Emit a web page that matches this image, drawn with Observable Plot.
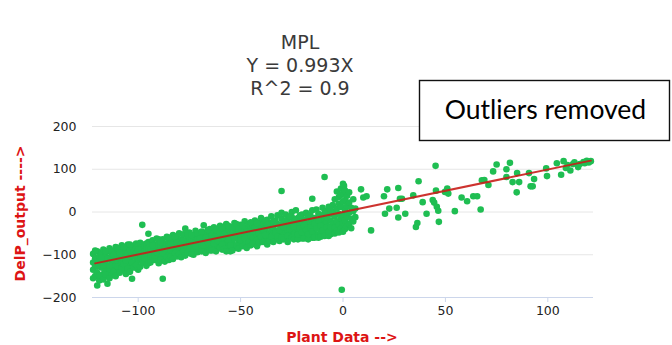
<!DOCTYPE html>
<html>
<head>
<meta charset="utf-8">
<script src="https://cdn.jsdelivr.net/npm/d3@7"></script>
<script src="https://cdn.jsdelivr.net/npm/@observablehq/plot@0.6"></script>
<style>
  html, body { margin: 0; padding: 0; background: #fff; }
  #chart { width: 672px; height: 345px; overflow: hidden; }
</style>
</head>
<body>
<div id="chart"></div>
<script>
// ---- chart values ----
const titleLines = ["MPL", "Y = 0.993X", "R^2 = 0.9"];
const boxText = "Outliers removed";
const xLabel = "Plant Data -->";
const yLabel = "DelP_output ---->";
const xTicks = [-100, -50, 0, 50, 100];
const yTicks = [-200, -100, 0, 100, 200];
const fitSlope = 0.993;
const fitRange = [-121, 121];

// dense band, Plant Data < -5 (upper / central part)
const bandPoints = [
  [-122,-98],[-122,-118],[-122,-135],[-121,-150],[-121,-108],[-121,-127],[-120,-92],[-120,-142],[-120,-172],[-119,-115],[-119,-103],[-119,-160],[-118,-130],[-118,-96],[-118,-122],[-117,-110],[-117,-145],[-117,-88],[-116,-136],[-116,-102],[-116,-118],[-115,-168],[-115,-92],[-115,-128],[-115,-150],
  [-114,-108],[-114,-85],[-114,-138],[-113,-120],[-113,-98],[-113,-148],[-112,-90],[-112,-112],[-112,-130],[-111,-82],[-111,-104],[-111,-125],[-110,-95],[-110,-116],[-110,-140],
  [-109,-86],[-109,-108],[-109,-128],[-108,-78],[-108,-100],[-108,-118],[-107,-92],[-107,-112],[-107,-135],[-106,-84],[-106,-104],[-105,-96],[-105,-122],[-105,-76],
  [-104,-88],[-104,-110],[-104,-128],[-103,-80],[-103,-100],[-103,-156],[-102,-92],[-102,-118],[-101,-74],[-101,-106],[-101,-86],[-100,-98],[-100,-135],[-100,-114],[-100,-78],
  [-99,-90],[-99,-108],[-99,-72],[-98,-30],[-98,-82],[-98,-100],[-97,-118],[-97,-92],[-97,-76],[-96,-86],[-96,-104],[-95,-51],[-95,-96],[-95,-112],[-95,-70],
  [-94,-80],[-94,-100],[-93,-66],[-93,-90],[-93,-108],[-92,-76],[-92,-94],[-91,-84],[-91,-62],[-91,-104],[-90,-72],[-90,-90],[-90,-110],
  [-89,-80],[-89,-98],[-88,-156],[-88,-64],[-88,-88],[-87,-74],[-87,-104],[-86,-58],[-86,-84],[-86,-94],[-85,-70],[-85,-100],[-85,-80],
  [-84,-62],[-84,-90],[-83,-76],[-83,-54],[-83,-98],[-82,-84],[-82,-68],[-81,-58],[-81,-92],[-80,-74],[-80,-50],[-80,-86],
  [-79,-64],[-79,-96],[-78,-80],[-78,-52],[-77,-39],[-77,-70],[-77,-90],[-76,-60],[-76,-84],[-75,-48],[-75,-74],[-75,-94],
  [-74,-66],[-74,-86],[-73,-56],[-73,-78],[-72,-44],[-72,-92],[-72,-70],[-71,-62],[-71,-82],[-70,-50],[-70,-74],[-70,-88],
  [-69,-58],[-69,-80],[-68,-31],[-68,-66],[-68,-90],[-67,-48],[-67,-74],[-66,-60],[-66,-84],[-65,-40],[-65,-68],[-65,-56],
  [-64,-76],[-64,-50],[-63,-62],[-63,-86],[-63,-36],[-62,-70],[-62,-54],[-61,-44],[-61,-80],[-60,-60],[-60,-32],[-60,-70],
  [-59,-50],[-59,-88],[-58,-64],[-58,-40],[-57,-74],[-57,-56],[-57,-28],[-56,-46],[-56,-82],[-55,-62],[-55,-36],[-55,-92],
  [-54,-52],[-54,-72],[-53,-26],[-53,-44],[-53,-84],[-52,-60],[-52,-38],[-51,-68],[-51,-50],[-50,-30],[-50,-76],[-50,-56],
  [-49,-44],[-49,-64],[-48,-22],[-48,-52],[-48,-72],[-47,-36],[-47,-58],[-46,-46],[-46,-28],[-45,-66],[-45,-40],[-45,-54],
  [-44,-32],[-44,-60],[-43,-20],[-43,-48],[-43,-70],[-42,-40],[-42,-54],[-41,-26],[-41,-62],[-40,-34],[-40,-46],[-40,-14],
  [-39,-56],[-39,-28],[-38,-40],[-38,-66],[-37,-18],[-37,-50],[-36,-34],[-36,-60],[-35,-10],[-35,-44],[-35,-26],
  [-34,-52],[-34,-36],[-33,-20],[-33,-64],[-32,-44],[-32,-8],[-31,-30],[-31,-56],[-30,49],[-30,-16],[-30,-40],[-30,-2],
  [-29,-48],[-29,-24],[-28,-60],[-28,-34],[-28,-6],[-27,-18],[-27,-42],[-26,-54],[-26,-28],[-25,0],[-25,-12],[-25,-38],
  [-24,-46],[-24,-22],[-23,-58],[-23,-32],[-23,4],[-22,-14],[-22,-40],[-21,-26],[-21,-52],[-20,-6],[-20,-34],[-20,-62],
  [-19,-18],[-19,-44],[-18,-2],[-18,-28],[-18,-56],[-17,-10],[-17,-38],[-16,-22],[-16,-48],[-15,31],[-15,4],[-15,-30],[-15,-60],
  [-14,-14],[-14,-40],[-13,-24],[-13,-52],[-13,6],[-12,-4],[-12,-34],[-11,-18],[-11,-46],[-10,10],[-10,-28],[-10,-8],[-10,-56],
  [-9,82],[-9,-38],[-9,-16],[-8,2],[-8,-48],[-8,-24],[-7,12],[-7,-34],[-6,-6],[-6,-52],[-6,-20],[-5,16],[-5,-42],[-5,-28],[-5,0]
];

// dense band, additional points filling the lower side
const bandPointsLower = [
  [-122,-155],[-121,-90],[-120,-128],[-119,-148],[-118,-108],[-117,-158],[-117,-125],[-116,-92],[-116,-146],[-115,-110],
  [-114,-155],[-114,-125],[-113,-92],[-112,-140],[-112,-100],[-111,-150],[-110,-84],[-110,-128],
  [-109,-142],[-109,-96],[-108,-130],[-107,-82],[-107,-122],[-106,-145],[-106,-114],[-105,-132],
  [-104,-76],[-104,-140],[-103,-118],[-102,-130],[-102,-104],[-101,-96],[-101,-124],[-100,-88],
  [-99,-128],[-99,-98],[-98,-118],[-97,-108],[-96,-126],[-96,-74],[-95,-84],[-95,-120],
  [-94,-118],[-94,-88],[-93,-78],[-92,-112],[-92,-102],[-91,-94],[-90,-120],[-90,-64],
  [-89,-112],[-89,-70],[-88,-96],[-87,-116],[-87,-86],[-86,-106],[-85,-60],[-85,-112],
  [-84,-104],[-84,-74],[-83,-110],[-82,-96],[-82,-58],[-81,-104],[-81,-72],[-80,-98],
  [-79,-76],[-79,-106],[-78,-92],[-78,-66],[-77,-102],[-76,-96],[-76,-50],[-75,-86],
  [-74,-98],[-74,-54],[-73,-90],[-73,-100],[-72,-80],[-71,-50],[-71,-94],[-70,-62],
  [-69,-92],[-69,-46],[-68,-78],[-67,-96],[-67,-60],[-66,-72],[-66,-42],[-65,-90],
  [-64,-90],[-64,-62],[-63,-74],[-62,-92],[-62,-42],[-61,-68],[-60,-84],[-60,-48],
  [-59,-76],[-59,-36],[-58,-86],[-58,-52],[-57,-92],[-56,-66],[-56,-32],[-55,-78],
  [-54,-90],[-54,-36],[-53,-62],[-52,-78],[-52,-28],[-51,-86],[-51,-40],[-50,-66],
  [-49,-80],[-49,-32],[-48,-62],[-47,-84],[-47,-46],[-46,-72],[-45,-24],[-45,-78],
  [-44,-74],[-44,-46],[-43,-36],[-42,-80],[-42,-26],[-41,-50],[-41,-72],[-40,-58],
  [-39,-70],[-39,-42],[-38,-20],[-38,-54],[-37,-76],[-37,-30],[-36,-68],[-35,-58],
  [-34,-70],[-34,-22],[-33,-48],[-32,-58],[-32,-28],[-31,-68],[-31,-42],[-30,-60],
  [-29,-64],[-29,-36],[-28,-20],[-27,-56],[-27,-70],[-26,-40],[-26,-10],[-25,-60],
  [-24,-64],[-24,-34],[-23,-18],[-22,-64],[-22,-52],[-21,-38],[-21,-8],[-20,-48],
  [-19,-62],[-19,-32],[-18,-42],[-17,-64],[-17,-52],[-16,-36],[-16,-6],[-15,-46],
  [-14,-60],[-14,-28],[-13,-38],[-12,-60],[-12,-20],[-11,-32],[-11,-58],[-10,-44],
  [-9,-56],[-9,-2],[-8,-36],[-8,-12],[-7,-56],[-7,-46],[-6,-36],[-6,6]
];

// cluster around Plant Data = 0
const centerPoints = [
  [-4,30],[-4,-10],[-4,-36],[-4,-50],[-3,48],[-3,8],[-3,-22],[-3,-44],[-2,35],[-2,20],[-2,-4],[-2,-30],[-2,-48],
  [-1,55],[-1,40],[-1,12],[-1,-16],[-1,-38],[0,66],[0,44],[0,24],[0,-8],[0,-26],[0,-46],[0.5,61],
  [1,50],[1,28],[1,4],[1,-20],[1,-40],[2,38],[2,14],[2,-10],[2,-34],[3,46],[3,22],[3,-2],[3,-28],
  [4,10],[4,-16],[4,-38],[5,30],[5,2],[5,-22],[6,8],[6,-12],[-0.6,-182]
];

// sparse points, Plant Data > 5
const rightPoints = [
  [8.8,53],[9.9,34],[11.5,37],[13.7,-43],[20,37],[20.5,-4],[21.6,53],[22.6,8],[26.2,10],[27,56],[27,-13],[27.8,31],[28.8,31],
  [30.4,-4],[34.3,39],[35.6,-35],[36.3,-26],[36.9,72],[38.9,23],[40.8,-4],[43.8,28],[44.5,22],[45.4,50],[45.2,108],[45.8,12],
  [46.5,3],[46.8,-23],[49.8,47],[50.9,55],[51.4,43],[54.6,2],[57.9,34],[60.6,25],[63.6,37],[65.5,37],[67.2,6],[67.8,74],
  [69,75],[71,63],[73.3,95],[75,111],[79.8,100],[79.8,82],[81.5,115],[82.8,70],[85,91],[84.8,46],[86,70],[90.8,91],
  [91.6,60],[92.6,60],[93.3,77],[99.2,102],[99.6,84],[104.4,114],[106.5,87],[107.7,119],[108.8,103],[109.6,110],[111,97],
  [112.3,112],[113,116],[114.8,105],[115.6,112],[117.4,117],[119,120],[120,116],[118,114],[121,119]
];

// ---- build ----
const points = [...bandPoints, ...bandPointsLower, ...centerPoints, ...rightPoints].map(([x, y]) => ({x, y}));
const fitLine = fitRange.map(x => ({x, y: fitSlope * x}));

const W = 672, H = 345;
const svg = Plot.plot({
  width: W,
  height: H,
  marginLeft: 92,
  marginRight: 79,
  marginTop: 126,
  marginBottom: 48,
  style: {background: "#fff", fontFamily: "DejaVu Sans", overflow: "visible"},
  x: {domain: [-122.3, 122.3], label: null},
  y: {domain: [-200, 200], label: null},
  marks: [
    Plot.gridY(yTicks, {stroke: "#e6e6e6", strokeOpacity: 1}),
    Plot.ruleY([-200], {stroke: "#ccd6eb"}),
    Plot.axisX(xTicks, {tickSize: 5, tickPadding: 4, stroke: "#ccd6eb", fill: "#222", fontSize: 12.5, fontFamily: "DejaVu Sans", label: null}),
    Plot.axisY(yTicks, {tickSize: 0, tickPadding: 16, fill: "#222", fontSize: 12.5, fontFamily: "DejaVu Sans", label: null}),
    Plot.dot(points, {x: "x", y: "y", r: 3.3, fill: "#1fbe52", stroke: "none"}),
    Plot.line(fitLine, {x: "x", y: "y", stroke: "#c81d18", strokeWidth: 2, strokeOpacity: 0.9})
  ]
});

const s = d3.select(svg);
// title lines
const titleY = [42, 65, 88];
titleLines.forEach((t, i) => {
  s.append("text")
    .attr("x", 300).attr("y", titleY[i])
    .attr("text-anchor", "middle").attr("dominant-baseline", "central")
    .attr("font-family", "DejaVu Sans").attr("font-size", 19)
    .attr("fill", "#3a3a3a").text(t);
});
// axis titles
s.append("text")
  .attr("x", 342).attr("y", 337)
  .attr("text-anchor", "middle").attr("dominant-baseline", "central")
  .attr("font-family", "DejaVu Sans").attr("font-weight", "bold").attr("font-size", 14)
  .attr("fill", "#dd1414").text(xLabel);
s.append("text")
  .attr("transform", "translate(20,213.5) rotate(-90)")
  .attr("text-anchor", "middle").attr("dominant-baseline", "central")
  .attr("font-family", "DejaVu Sans").attr("font-weight", "bold").attr("font-size", 14)
  .attr("fill", "#dd1414").text(yLabel);
// annotation box
s.append("rect")
  .attr("x", 419.5).attr("y", 80.5).attr("width", 250).attr("height", 60)
  .attr("fill", "#fff").attr("stroke", "#111").attr("stroke-width", 1.4);
s.append("text")
  .attr("x", 545.5).attr("y", 119)
  .attr("text-anchor", "middle")
  .attr("font-family", "Lato").attr("font-size", 26.5)
  .attr("fill", "#000").text(boxText);

document.getElementById("chart").appendChild(svg);
</script>
</body>
</html>
